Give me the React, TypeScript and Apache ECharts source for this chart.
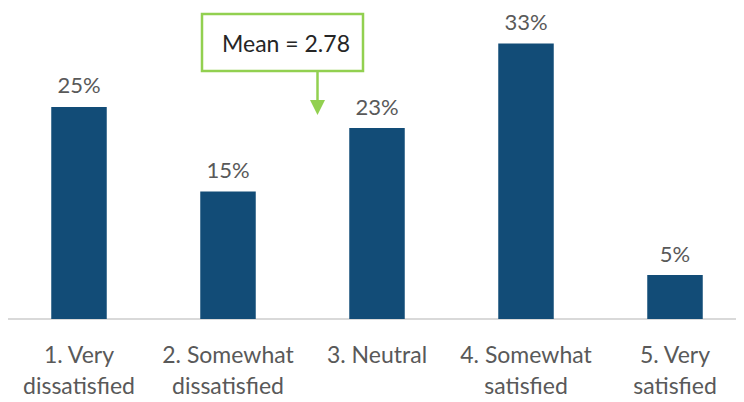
import React, { useEffect, useRef } from "react";
import * as echarts from "echarts";

const categories = [
  "1. Very\ndissatisfied",
  "2. Somewhat\ndissatisfied",
  "3. Neutral",
  "4. Somewhat\nsatisfied",
  "5. Very\nsatisfied",
];
const values = [25.1, 15.1, 22.6, 32.6, 5.2];
const meanLabel = "Mean = 2.78";

export default function App() {
  const ref = useRef<HTMLDivElement>(null);
  useEffect(() => {
    if (!ref.current) return;
    const chart = echarts.init(ref.current, null, { renderer: "svg" });
    const font = "Lato";
    chart.setOption({
      animation: false,
      grid: {
        left: 4.5,
        width: 745,
        top: 0,
        bottom: 83,
        containLabel: false,
        outerBoundsMode: "none",
      },
      xAxis: {
        type: "category",
        data: categories,
        axisLine: { lineStyle: { color: "#D9D9D9", width: 2 } },
        axisTick: { show: false },
        axisLabel: {
          color: "#595959",
          fontFamily: font,
          fontSize: 23,
          lineHeight: 31,
          margin: 19,
          interval: 0,
        },
      },
      yAxis: {
        type: "value",
        min: 0,
        max: 37.75,
        show: false,
        splitLine: { show: false },
      },
      series: [
        {
          type: "bar",
          data: values,
          barWidth: 55.5,
          itemStyle: { color: "#124C77" },
          label: {
            show: true,
            position: "top",
            distance: 11,
            color: "#595959",
            fontFamily: font,
            fontSize: 22,
            formatter: (p: any) => Math.round(p.value) + "%",
          },
        },
      ],
      graphic: [
        {
          type: "rect",
          shape: { x: 202, y: 14, width: 161, height: 57 },
          style: { fill: "#fff", stroke: "#92D050", lineWidth: 2.5 },
        },
        {
          type: "text",
          x: 222,
          y: 42.5,
          style: {
            text: meanLabel,
            fill: "#262626",
            font: `23px "${font}"`,
            textVerticalAlign: "middle",
          },
        },
        {
          type: "line",
          shape: { x1: 317.5, y1: 72, x2: 317.5, y2: 102 },
          style: { stroke: "#92D050", lineWidth: 2.5 },
        },
        {
          type: "polygon",
          shape: { points: [[310, 100], [325, 100], [317.5, 115]] },
          style: { fill: "#92D050" },
        },
      ],
    });
    return () => chart.dispose();
  }, []);
  return <div ref={ref} style={{ width: 744, height: 402, margin: -8 }} />;
}
